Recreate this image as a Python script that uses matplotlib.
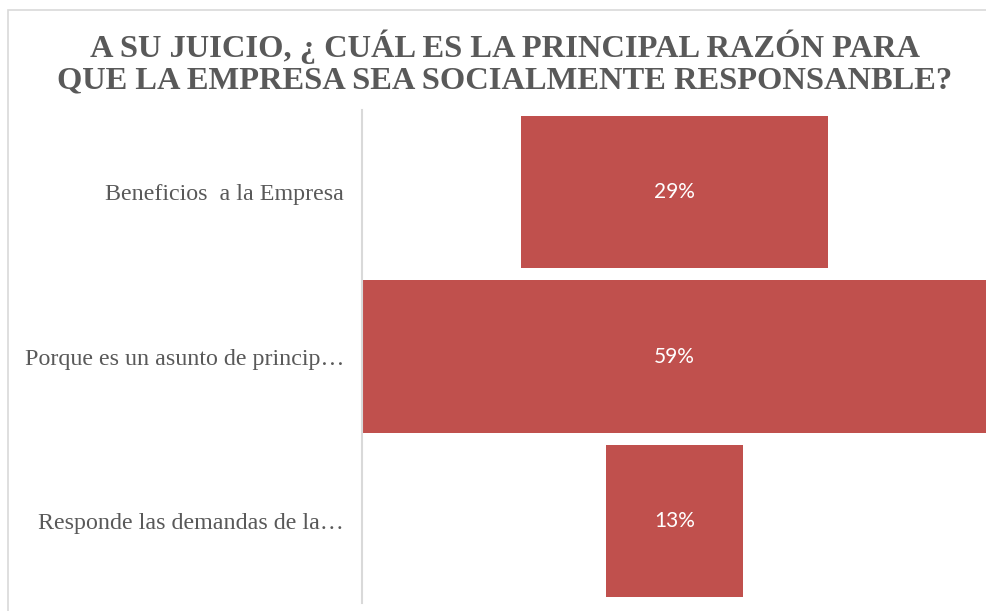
import matplotlib
matplotlib.use('Agg')
import matplotlib.pyplot as plt
from matplotlib.patches import Rectangle

categories = ['Beneficios  a la Empresa', 'Porque es un asunto de princip\u2026', 'Responde las demandas de la\u2026']
values = [29, 59, 13]
title = 'A SU JUICIO, \u00bf CU\u00c1L ES LA PRINCIPAL RAZ\u00d3N PARA\nQUE LA EMPRESA SEA SOCIALMENTE RESPONSANBLE?'

bar_color = '#c0504d'
gray = '#595959'

fig = plt.figure(figsize=(9.87, 6.11), dpi=100)
# light chart border
fig.patches.append(Rectangle((8/987, -0.01), 1.0, 1 - 10/611 + 0.01, transform=fig.transFigure,
                             fill=False, edgecolor='#d9d9d9', linewidth=1.2))

ax = fig.add_axes([362/987, 8/611, 625/987, 493/611])
ypos = list(range(len(values)))
lefts = [-v / 2 for v in values]
ax.barh(ypos, values, left=lefts, height=0.925, color=bar_color)
for y, v in zip(ypos, values):
    ax.text(0, y, f'{v}%', ha='center', va='center', color='white', fontsize=15, family='Lato')

m = max(values) / 2
ax.set_xlim(-m, m)
ax.set_ylim(len(values) - 0.5, -0.5)
ax.set_yticks(ypos)
ax.set_yticklabels(categories, family='Liberation Serif', fontsize=17.3, color=gray)
ax.tick_params(axis='y', length=0, pad=13)
ax.set_xticks([])
for s in ['top', 'right', 'bottom']:
    ax.spines[s].set_visible(False)
ax.spines['left'].set_color('#d9d9d9')
ax.spines['left'].set_linewidth(1.5)

fig.text(505/987, 0.898, title, ha='center', va='center', family='Liberation Serif', fontweight='bold',
         fontsize=23.4, color=gray, linespacing=1.1)

fig.savefig('out.png', dpi=100)
